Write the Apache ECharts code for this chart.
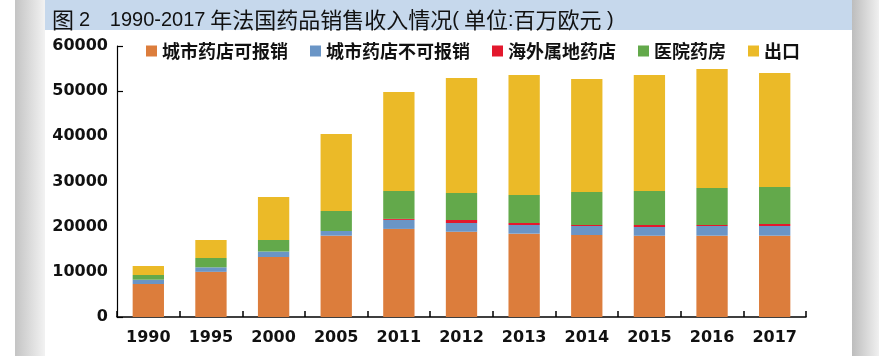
<!DOCTYPE html>
<html><head><meta charset="utf-8">
<script src="https://cdn.jsdelivr.net/npm/echarts@6/dist/echarts.min.js"></script>
<style>html,body{margin:0;padding:0;background:#fff}#c{width:888px;height:356px}</style>
</head><body><div id="c"></div>
<script>
const categories = ['1990','1995','2000','2005','2011','2012','2013','2014','2015','2016','2017'];
const seriesNames = ['城市药店可报销','城市药店不可报销','海外属地药店','医院药房','出口'];
const reimbursable = [7300,10000,13300,18000,19500,18900,18450,18150,18000,18000,18000];
const nonReimbursable = [960,1000,1180,1040,2000,1920,1920,2000,1930,2150,2150];
const overseas = [0,0,0,0,220,670,440,220,440,220,440];
const hospital = [1040,2060,2590,4430,6200,5970,6200,7310,7530,8190,8190];
const exportVals = [1990,3990,9520,17050,21920,25470,26570,25020,25680,26340,25240];
const yTicks = [0,10000,20000,30000,40000,50000,60000];
const titleRich = '{c|图} {d|2}    {d|1990-2017} {c|年法国药品销售收入情况}{d|(} {c|单位}{d|:}{c|百万欧元}{d| )}';

const colors = ['#DC7D3C','#6A95C6','#E3182D','#63A94B','#EBBA28'];
const valuesList = [reimbursable, nonReimbursable, overseas, hospital, exportVals];

const chart = echarts.init(document.getElementById('c'), null, {renderer:'canvas'});
const grayL = new echarts.graphic.LinearGradient(0,0,1,0,[{offset:0,color:'#c4c4c4'},{offset:1,color:'#f2f2f2'}]);
const grayR = new echarts.graphic.LinearGradient(0,0,1,0,[{offset:0,color:'#bdbdbd'},{offset:1,color:'#f0f0f0'}]);
chart.setOption({
  animation:false,
  backgroundColor:'#fff',
  color: colors,
  graphic:[
    {type:'rect',shape:{x:15,y:0,width:30,height:356},style:{fill:grayL},z:-10,silent:true},
    {type:'rect',shape:{x:852,y:0,width:27,height:356},style:{fill:grayR},z:-10,silent:true},
    {type:'rect',shape:{x:45,y:0,width:807,height:30},style:{fill:'#C6D8EC'},z:-10,silent:true}
  ],
  title:{
    text:titleRich,
    left:47, top:4,
    textStyle:{
      fontFamily:'Noto Sans CJK SC',fontSize:22,fontWeight:'normal',color:'#111',
      rich:{
        c:{fontFamily:'Noto Sans CJK SC',fontSize:22,color:'#111'},
        d:{fontFamily:'Liberation Sans',fontSize:20,color:'#111'}
      }
    }
  },
  legend:{
    data:seriesNames,
    left:141, top:37,
    itemWidth:11, itemHeight:11, itemGap:22,
    icon:'rect',
    textStyle:{fontFamily:'Noto Sans CJK SC',fontSize:18,fontWeight:'bold',color:'#111'}
  },
  grid:{left:117,right:82,top:46,bottom:39,containLabel:false},
  xAxis:{
    type:'category',
    data:categories,
    axisLine:{lineStyle:{color:'#000',width:1.5}},
    axisTick:{show:true,inside:true,length:6,lineStyle:{color:'#000',width:1.5}},
    axisLabel:{fontFamily:'DejaVu Sans',fontWeight:'bold',fontSize:16,color:'#111',margin:13}
  },
  yAxis:[{
    type:'value',
    min:yTicks[0], max:yTicks[yTicks.length-1], interval:10000,
    axisLine:{show:true,lineStyle:{color:'#000',width:1.2}},
    axisTick:{show:false},
    splitLine:{show:false},
    axisLabel:{fontFamily:'DejaVu Sans',fontWeight:'bold',fontSize:16,color:'#111',margin:9,
      formatter:v=>String(v)}
  },{
    type:'value', position:'left',
    min:0, max:60000, interval:50000,
    axisLine:{show:false},
    axisTick:{show:true,inside:true,length:6,lineStyle:{color:'#000',width:1.2}},
    axisLabel:{show:false},
    splitLine:{show:false}
  }],
  series: seriesNames.map((n,i)=>({
    name:n, type:'bar', stack:'total', barWidth:'50%',
    data:valuesList[i],
    itemStyle:{color:colors[i]}
  }))
});
</script></body></html>
